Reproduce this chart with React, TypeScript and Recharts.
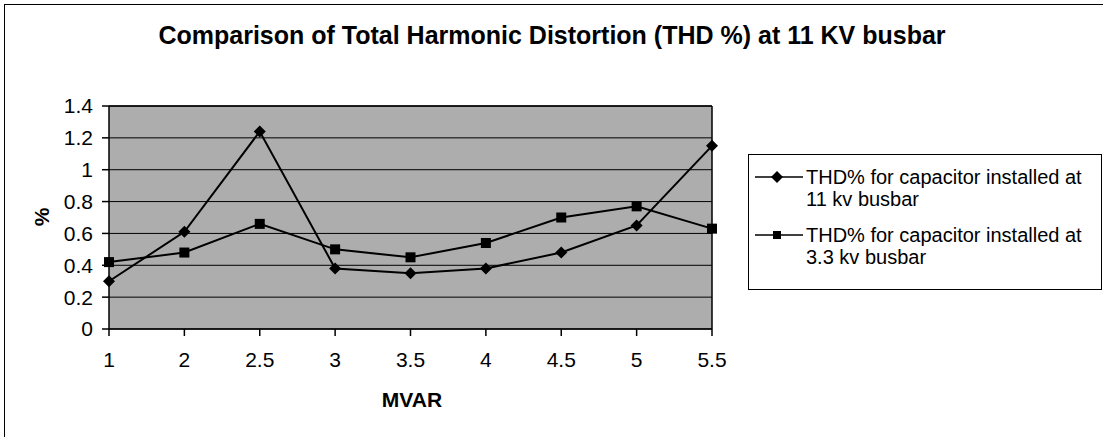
import { LineChart, Line, XAxis, YAxis, CartesianGrid, ReferenceLine } from 'recharts';

const categories = ['1', '2', '2.5', '3', '3.5', '4', '4.5', '5', '5.5'];
const thdAt11kv = [0.3, 0.61, 1.24, 0.38, 0.35, 0.38, 0.48, 0.65, 1.15];
const thdAt33kv = [0.42, 0.48, 0.66, 0.5, 0.45, 0.54, 0.7, 0.77, 0.63];
const yTicks = [0, 0.2, 0.4, 0.6, 0.8, 1, 1.2, 1.4];

const seriesNames = [
  ['THD% for capacitor installed at', '11 kv busbar'],
  ['THD% for capacitor installed at', '3.3 kv busbar'],
];

const data = categories.map((mvar, i) => ({
  mvar,
  a: thdAt11kv[i],
  b: thdAt33kv[i],
}));

const font = 'Arial, "Liberation Sans", sans-serif';

const Diamond = (props: any) => {
  const { cx, cy, index } = props;
  if (cx == null || cy == null) return null;
  return (
    <path
      key={'d' + index}
      d={`M${cx},${cy - 6} L${cx + 6},${cy} L${cx},${cy + 6} L${cx - 6},${cy} Z`}
      fill="#000"
    />
  );
};

const Square = (props: any) => {
  const { cx, cy, index } = props;
  if (cx == null || cy == null) return null;
  return <rect key={'s' + index} x={cx - 5} y={cy - 5} width={10} height={10} fill="#000" />;
};

// legend entry: line with marker, then two lines of text
const LegendItem = ({ top, lines, marker }: { top: number; lines: string[]; marker: 'diamond' | 'square' }) => (
  <div style={{ position: 'absolute', left: 0, top, width: 354 }}>
    <svg width={50} height={22} style={{ position: 'absolute', left: 6, top: 0 }}>
      <line x1={0} y1={11} x2={48} y2={11} stroke="#000" strokeWidth={1.5} />
      {marker === 'diamond' ? (
        <path d="M22,5 L28,11 L22,17 L16,11 Z" fill="#000" />
      ) : (
        <rect x={18} y={7} width={8} height={8} fill="#000" />
      )}
    </svg>
    <div style={{ position: 'absolute', left: 57, top: 0, fontSize: 20, lineHeight: '22px', whiteSpace: 'nowrap' }}>
      {lines[0]}
      <br />
      {lines[1]}
    </div>
  </div>
);

export default function App() {
  return (
    <div style={{ position: 'absolute', left: 0, top: 0, width: 1104, height: 437, background: '#fff', fontFamily: font, overflow: 'hidden' }}>
      <div style={{ position: 'absolute', left: 4, top: 4, width: 1098, height: 440, borderLeft: '1.5px solid #000', borderTop: '1.5px solid #000' }} />
      <div style={{ position: 'absolute', left: 0, top: 20, width: 1104, textAlign: 'center', fontSize: 25, fontWeight: 'bold', lineHeight: '30px' }}>
        Comparison of Total Harmonic Distortion (THD %) at 11 KV busbar
      </div>
      <LineChart
        width={1104}
        height={437}
        data={data}
        margin={{ top: 106, right: 392, left: 0, bottom: 78 }}
        style={{ position: 'absolute', left: 0, top: 0 }}
      >
        <CartesianGrid vertical={false} stroke="#000" strokeWidth={1} fill="#adadad" fillOpacity={1} />
        <XAxis
          dataKey="mvar"
          height={30}
          tickSize={7}
          tickMargin={16}
          stroke="#000"
          strokeWidth={1.5}
          tick={{ fill: '#000', fontSize: 21, fontFamily: font }}
          interval={0}
        />
        <YAxis
          width={109}
          domain={[0, 1.4]}
          ticks={yTicks}
          tickSize={7}
          tickMargin={9}
          stroke="#000"
          strokeWidth={1.5}
          tick={{ fill: '#000', fontSize: 21, fontFamily: font }}
          interval={0}
        />
        <ReferenceLine x="5.5" stroke="#000" strokeWidth={1.5} />
        <ReferenceLine y={1.4} stroke="#000" strokeWidth={1.5} />
        <Line dataKey="a" stroke="#000" strokeWidth={2} dot={Diamond} activeDot={false} isAnimationActive={false} />
        <Line dataKey="b" stroke="#000" strokeWidth={2} dot={Square} activeDot={false} isAnimationActive={false} />
      </LineChart>
      <div style={{ position: 'absolute', left: 362, top: 388, width: 100, textAlign: 'center', fontSize: 21, fontWeight: 'bold', lineHeight: '24px' }}>
        MVAR
      </div>
      <div
        style={{ position: 'absolute', left: 42, top: 217, fontSize: 21, fontWeight: 'bold', lineHeight: '24px', transform: 'translate(-50%, -50%) rotate(-90deg)' }}
      >
        %
      </div>
      <div style={{ position: 'absolute', left: 748, top: 154, width: 354, height: 136, border: '1.5px solid #000', boxSizing: 'border-box', background: '#fff' }}>
        <LegendItem top={11} lines={seriesNames[0]} marker="diamond" />
        <LegendItem top={69} lines={seriesNames[1]} marker="square" />
      </div>
    </div>
  );
}
